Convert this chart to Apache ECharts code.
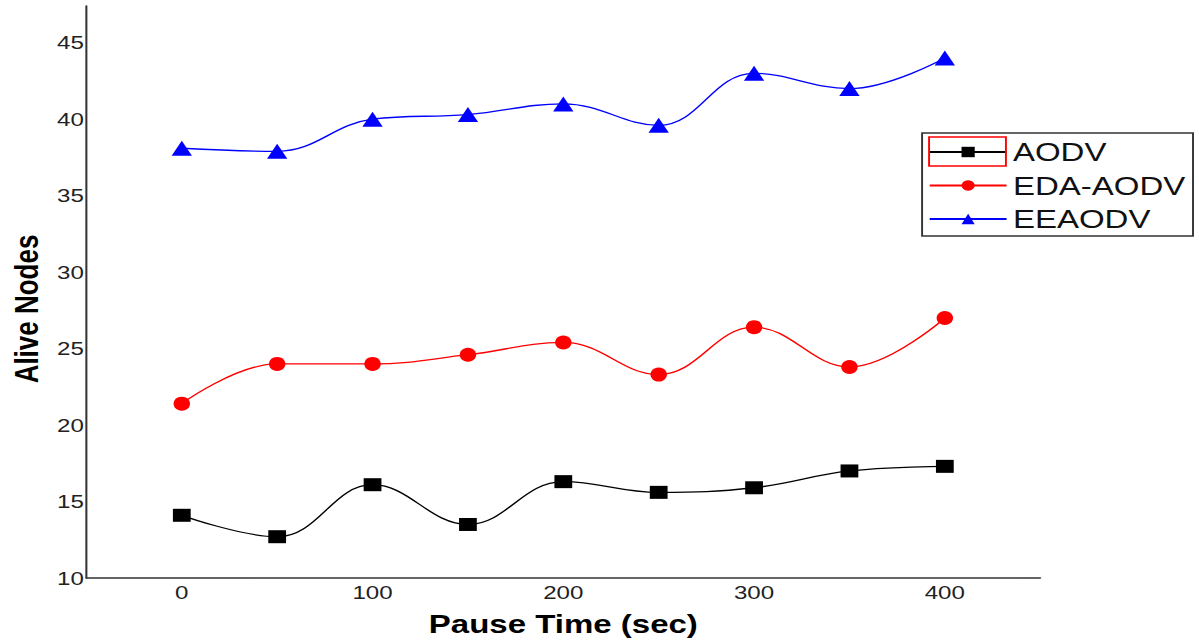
<!DOCTYPE html>
<html>
<head>
<meta charset="utf-8">
<script src="https://cdn.jsdelivr.net/npm/echarts@6/dist/echarts.min.js"></script>
<style>
  html, body { margin: 0; padding: 0; background: #fff; overflow: hidden; }
  #wrap { width: 1199px; height: 643px; overflow: hidden; }
  #chart { width: 944px; height: 643px; transform: scaleX(1.2701); transform-origin: 0 0; }
</style>
</head>
<body>
<div id="wrap"><div id="chart"></div></div>
<script>
const pauseTimes = [0, 50, 100, 150, 200, 250, 300, 350, 400];
const xTickLabels = [0, 100, 200, 300, 400];
const yTickLabels = [10, 15, 20, 25, 30, 35, 40, 45];
const seriesNames = ['AODV', 'EDA-AODV', 'EEAODV'];
const aodv     = [14.1, 12.7, 16.1, 13.5, 16.3, 15.6, 15.9, 17.0, 17.3];
const edaAodv  = [21.4, 24.0, 24.0, 24.6, 25.4, 23.3, 26.4, 23.8, 27.0];
const eeaodv   = [38.1, 37.9, 40.0, 40.3, 41.0, 39.6, 43.0, 42.0, 44.0];

const pairs = arr => pauseTimes.map((x, i) => [x, arr[i]]);

const chart = echarts.init(document.getElementById('chart'), null, { renderer: 'svg' });
const axisFont = "'Liberation Sans', Arial, sans-serif";

chart.setOption({
  animation: false,
  backgroundColor: '#ffffff',
  grid: { left: 67.7, right: 125, top: 6, bottom: 65 },
  xAxis: {
    type: 'value',
    min: -50,
    max: 450,
    name: 'Pause Time (sec)',
    nameLocation: 'middle',
    nameGap: 33,
    nameTextStyle: { fontFamily: axisFont, fontSize: 26, fontWeight: 'bold', color: '#000' },
    axisLine: { show: true, onZero: false, lineStyle: { color: '#333', width: 1.6 } },
    axisTick: { show: false },
    splitLine: { show: false },
    axisLabel: {
      customValues: xTickLabels,
      fontFamily: axisFont, fontSize: 19, color: '#222', margin: 5
    }
  },
  yAxis: {
    type: 'value',
    min: 10,
    max: 47.4,
    interval: 5,
    name: 'Alive Nodes',
    nameLocation: 'middle',
    nameGap: 34,
    nameRotate: 90,
    nameTextStyle: { fontFamily: axisFont, fontSize: 26, fontWeight: 'bold', color: '#000', padding: [0, 0, 0, -34] },
    axisLine: { show: true, onZero: false, lineStyle: { color: '#333', width: 1.6 } },
    axisTick: { show: false },
    splitLine: { show: false },
    axisLabel: {
      showMaxLabel: false,
      fontFamily: axisFont, fontSize: 19, color: '#222', margin: 2,
      formatter: v => (yTickLabels.indexOf(v) >= 0 ? String(v) : '')
    }
  },
  legend: {
    orient: 'vertical',
    left: 726,
    top: 133,
    padding: [6, 6, 4, 5],
    itemGap: 7.5,
    itemWidth: 60.5,
    itemHeight: 13,
    backgroundColor: '#fff',
    borderColor: '#333',
    borderWidth: 1.5,
    borderRadius: 0,
    textStyle: { fontFamily: axisFont, fontSize: 26, color: '#111', lineHeight: 26 },
    data: seriesNames
  },
  graphic: [{
    type: 'rect',
    shape: { x: 731.5, y: 137, width: 60.5, height: 29 },
    style: { fill: 'none', stroke: '#ff0000', lineWidth: 1.5 },
    z: 100
  }],
  series: [
    {
      name: seriesNames[0], type: 'line', smooth: 0.4,
      data: pairs(aodv),
      symbol: 'rect', symbolSize: [14, 13],
      itemStyle: { color: '#000' },
      lineStyle: { color: '#000', width: 1.3 }
    },
    {
      name: seriesNames[1], type: 'line', smooth: 0.4,
      data: pairs(edaAodv),
      symbol: 'circle', symbolSize: [13, 14],
      itemStyle: { color: '#ff0000' },
      lineStyle: { color: '#ff0000', width: 1.3 }
    },
    {
      name: seriesNames[2], type: 'line', smooth: 0.4,
      data: pairs(eeaodv),
      symbol: 'triangle', symbolSize: [16, 15],
      itemStyle: { color: '#0000ff' },
      lineStyle: { color: '#0000ff', width: 1.3 }
    }
  ]
});
</script>
</body>
</html>
